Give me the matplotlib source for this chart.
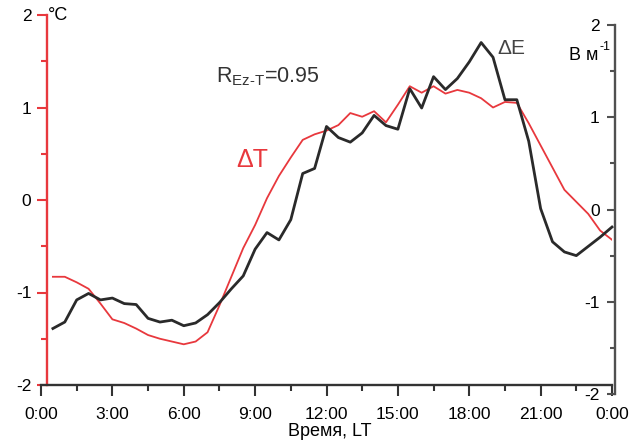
import matplotlib
matplotlib.use("Agg")
import matplotlib.pyplot as plt
import numpy as np

plt.rcParams['font.family'] = ['Liberation Sans', 'DejaVu Sans']
plt.rcParams['mathtext.fontset'] = 'custom'
plt.rcParams['mathtext.rm'] = 'Liberation Sans'
plt.rcParams['mathtext.it'] = 'Liberation Sans'

# Data: half-hourly local time
hours = [0.5, 1.0, 1.5, 2.0, 2.5, 3.0, 3.5, 4.0, 4.5, 5.0, 5.5, 6.0,
         6.5, 7.0, 7.5, 8.0, 8.5, 9.0, 9.5, 10.0, 10.5, 11.0, 11.5, 12.0,
         12.5, 13.0, 13.5, 14.0, 14.5, 15.0, 15.5, 16.0, 16.5, 17.0, 17.5, 18.0,
         18.5, 19.0, 19.5, 20.0, 20.5, 21.0, 21.5, 22.0, 22.5, 23.0, 23.5, 24.0]
delta_T = [-0.83, -0.83, -0.89, -0.96, -1.12, -1.29, -1.33, -1.39, -1.46, -1.50, -1.53, -1.56,
           -1.53, -1.43, -1.14, -0.83, -0.52, -0.27, 0.02, 0.26, 0.46, 0.65, 0.71, 0.75,
           0.81, 0.94, 0.90, 0.96, 0.84, 1.03, 1.23, 1.16, 1.23, 1.15, 1.19, 1.16,
           1.10, 1.00, 1.06, 1.05, 0.83, 0.59, 0.35, 0.11, -0.02, -0.15, -0.33, -0.43]
delta_E = [-1.29, -1.22, -0.98, -0.91, -0.98, -0.96, -1.02, -1.03, -1.18, -1.22, -1.20, -1.26,
           -1.23, -1.14, -1.01, -0.86, -0.72, -0.43, -0.25, -0.33, -0.11, 0.39, 0.445, 0.90,
           0.78, 0.73, 0.83, 1.02, 0.91, 0.87, 1.31, 1.10, 1.44, 1.30, 1.42, 1.60,
           1.81, 1.65, 1.19, 1.19, 0.74, 0.01, -0.35, -0.46, -0.50, -0.40, -0.30, -0.19]
x_ticks = [0, 3, 6, 9, 12, 15, 18, 21, 24]
x_labels = ['0:00', '3:00', '6:00', '9:00', '12:00', '15:00', '18:00', '21:00', '0:00']
y_ticks = [-2, -1, 0, 1, 2]
y_labels = ['-2', '-1', '0', '1', '2']

RED = '#e8383d'
DARK = '#2a2a2a'
GRAY = '#505050'

W, H = 639, 442
fig = plt.figure(figsize=(W / 100, H / 100), dpi=100)

def rect(l, r, b, t):
    return [l / W, 1 - b / H, (r - l) / W, (b - t) / H]

# main axes: time + temperature (left, red)
ax = fig.add_axes(rect(41, 612, 385, 15))
ax.set_xlim(0, 24)
ax.set_ylim(-2, 2)
ax.plot(hours, delta_T, color=RED, lw=1.3, zorder=3)

for s in ['top', 'right']:
    ax.spines[s].set_visible(False)
ax.spines['left'].set_position(('data', 0.24))
ax.spines['left'].set_color(RED)
ax.spines['left'].set_linewidth(1.7)
ax.spines['bottom'].set_color('#333333')
ax.spines['bottom'].set_linewidth(1.7)

ax.set_xticks(x_ticks)
ax.set_xticklabels(x_labels)
ax.set_xticks([1.5 + 3 * i for i in range(8)], minor=True)
ax.set_yticks(y_ticks)
ax.set_yticklabels(y_labels)
ax.set_yticks([-1.5, -0.5, 0.5, 1.5], minor=True)
ax.tick_params(axis='x', which='major', direction='out', length=8, width=1.5,
               color='#333333', labelsize=12.5, pad=8)
ax.tick_params(axis='x', which='minor', direction='out', length=4.5, width=1.5,
               color='#333333')
ax.tick_params(axis='y', which='major', direction='out', length=7, width=1.5,
               color=RED, labelsize=12.5, pad=4)
ax.tick_params(axis='y', which='minor', direction='out', length=4, width=1.5,
               color=RED)

# right axes: electric field (shifted slightly down)
ax2 = fig.add_axes(rect(41, 612, 394, 25))
ax2.patch.set_visible(False)
ax2.set_xlim(0, 24)
ax2.set_ylim(-2, 2)
ax2.plot(hours, delta_E, color=DARK, lw=2.0, zorder=4, clip_on=False)
for s in ['top', 'left', 'bottom']:
    ax2.spines[s].set_visible(False)
ax2.spines['right'].set_position(('axes', 1.005))
ax2.spines['right'].set_color(GRAY)
ax2.spines['right'].set_linewidth(1.7)
ax2.xaxis.set_visible(False)
ax2.yaxis.tick_right()
ax2.set_yticks(y_ticks)
ax2.set_yticklabels(y_labels, ha='right')
ax2.set_yticks([-1.5, -0.5, 0.5, 1.5], minor=True)
ax2.tick_params(axis='y', which='major', direction='in', length=6, width=1.5,
                color=GRAY, labelsize=12.5, pad=-11)
ax2.tick_params(axis='y', which='minor', direction='in', length=3.5, width=1.5,
                color=GRAY)

def px(x, y):
    return x / W, 1 - y / H

fig.text(*px(48, 16), '°C', fontsize=13, ha='left', va='center')
fig.text(*px(598, 55), 'В м', fontsize=13, ha='right', va='center')
fig.text(*px(599, 47), '-1', fontsize=9, ha='left', va='center')
fig.text(*px(497, 48), 'ΔE', fontsize=15, ha='left', va='center', color='#444444')
fig.text(*px(236, 160), 'ΔT', fontsize=18, ha='left', va='center', color=RED)
fig.text(*px(216, 77), r'R$_{\rm Ez‐T}$=0.95', fontsize=15.5, ha='left', va='center',
         color='#333333')
fig.text(*px(330, 431), 'Время, LT', fontsize=13, ha='center', va='center')

fig.savefig('out.png', dpi=100)
